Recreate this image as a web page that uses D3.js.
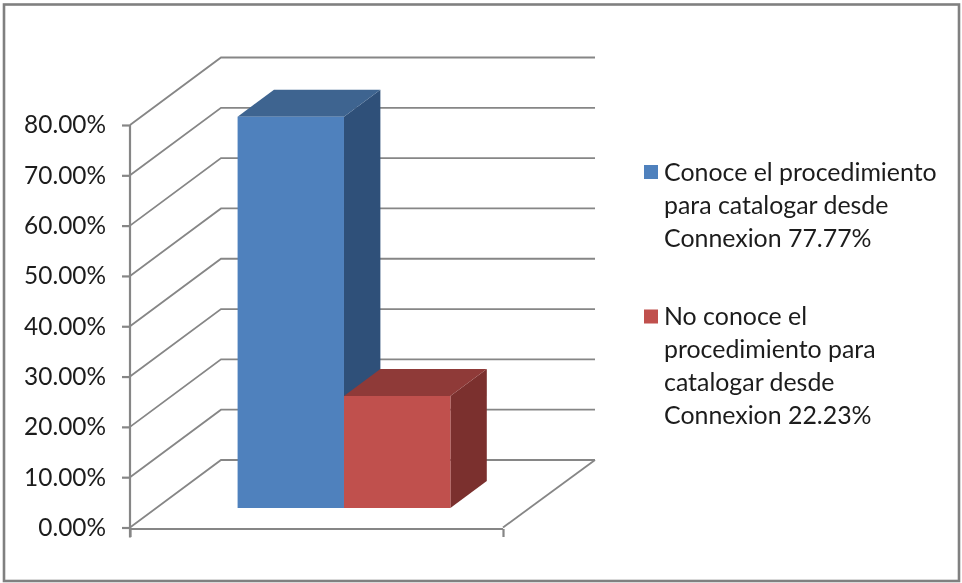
<!DOCTYPE html>
<html><head><meta charset="utf-8">
<script src="https://cdn.jsdelivr.net/npm/d3@7"></script>
<style>
html,body{margin:0;padding:0;background:#fff}
svg{display:block;filter:blur(0.55px)}
text{font-family:Lato,"Open Sans",sans-serif;fill:#1c1c1c}
</style></head><body><div id="c"></div>
<script>
const seriesNames = ["Conoce","No conoce"];
const seriesValues = [77.77, 22.23];
const yTicks = [0,10,20,30,40,50,60,70,80];
const legendLines = [
  ["Conoce el procedimiento","para catalogar desde","Connexion 77.77%"],
  ["No conoce el","procedimiento para","catalogar desde","Connexion 22.23%"]
];
const frontColors = ["#4F81BD","#C0504D"];
const topColors = ["#3E6490","#8F3A38"];
const sideColors = ["#2F5079","#7B302E"];
const gridColor = "#868686";

const W = 962, H = 583;
const svg = d3.select("#c").append("svg").attr("width",W).attr("height",H);

svg.append("rect").attr("x",4).attr("y",4.5).attr("width",955).attr("height",576.5)
  .attr("fill","#fff").attr("stroke","#808080").attr("stroke-width",2.6);

const y = d3.scaleLinear().domain([0,80]).range([527.5,125]);
const floorX = d3.scaleLinear().domain([0,1]).range([130,503]);
const depthX = d3.scaleLinear().domain([0,1]).range([0,91]);
const depthY = d3.scaleLinear().domain([0,1]).range([0,-67.5]);
const band = d3.scaleBand().domain(seriesNames).range([211.2,424]);
const line = d3.line();

const P = (px,val,t) => [px+depthX(t), y(val)+depthY(t)];

const g = svg.append("g").attr("fill","none").attr("stroke",gridColor).attr("stroke-width",1.8);
g.selectAll("path.grid").data(yTicks).join("path").attr("class","grid")
  .attr("d",v=>line([P(floorX(0),v,0),P(floorX(0),v,1),P(floorX(1)+1,v,1)]));
g.append("path").attr("d",line([P(floorX(1),0,0),P(floorX(1)+1,0,1)]));

const yAxis = svg.append("g").attr("transform","translate(130,0)")
  .call(d3.axisLeft(y).tickValues(yTicks).tickSize(8).tickPadding(16).tickFormat(v=>d3.format(".2f")(v)+"%"));
yAxis.selectAll("path,line").attr("stroke",gridColor).attr("stroke-width",2.2);
yAxis.select("path").attr("d",`M0,${y(80)}V${y(0)+10}`);
yAxis.selectAll("text").attr("font-size",24.4).attr("font-family","Lato").attr("fill","#1c1c1c");

const xAxis = svg.append("g").attr("transform",`translate(0,${y(0)+1.5})`)
  .call(d3.axisBottom(floorX).tickValues([0,1]).tickSize(8).tickFormat(""));
xAxis.selectAll("path,line").attr("stroke",gridColor).attr("stroke-width",2.2);
xAxis.select("path").attr("d",`M130,0H503`);

const t0 = 0.29, t1 = 0.69;
const bars = svg.append("g").selectAll("g").data(seriesNames).join("g");
bars.each(function(name,i){
  const b = d3.select(this), v = seriesValues[i];
  const xa = band(name), xb = xa + band.bandwidth();
  b.append("path").attr("fill",sideColors[i])
    .attr("d",line([P(xb,0,t0),P(xb,0,t1),P(xb,v,t1),P(xb,v,t0)])+"Z");
  b.append("path").attr("fill",topColors[i])
    .attr("d",line([P(xa,v,t0),P(xa,v,t1),P(xb,v,t1),P(xb,v,t0)])+"Z");
  b.append("path").attr("fill",frontColors[i])
    .attr("d",line([P(xa,0,t0),P(xa,v,t0),P(xb,v,t0),P(xb,0,t0)])+"Z");
});

const legendTop = [180.5,325];
const legendLH = 33;
legendLines.forEach((lines,i)=>{
  svg.append("rect").attr("x",644).attr("y",legendTop[i]-15.5).attr("width",14).attr("height",14)
    .attr("fill",frontColors[i]);
  lines.forEach((s,k)=>{
    svg.append("text").attr("x",664).attr("y",legendTop[i]+k*legendLH)
      .attr("font-size",24.9).text(s);
  });
});
</script></body></html>
